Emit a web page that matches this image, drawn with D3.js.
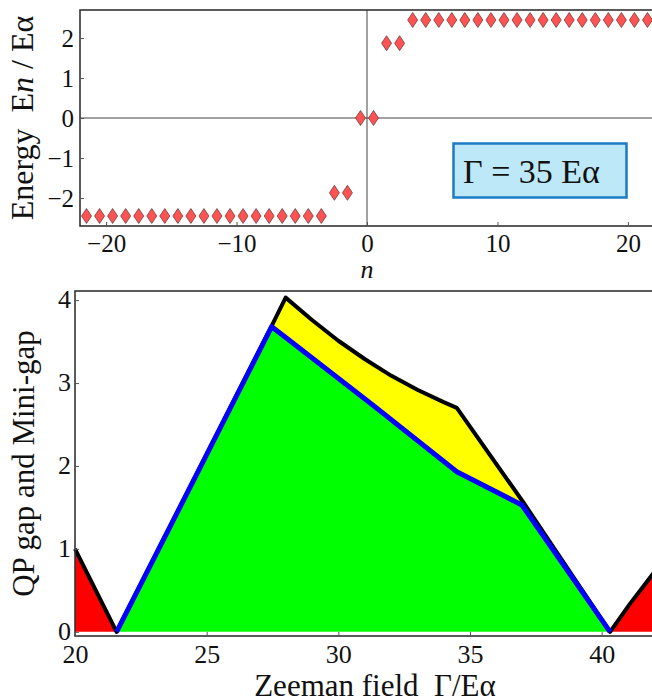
<!DOCTYPE html>
<html>
<head>
<meta charset="utf-8">
<script src="https://cdn.jsdelivr.net/npm/d3@7"></script>
<style>
  html, body { margin: 0; padding: 0; background: #fff; }
  svg { display: block; }
  svg text { font-family: "Liberation Serif", "Times New Roman", serif !important; }
</style>
</head>
<body>
<svg id="chart" width="652" height="700"></svg>
<script>
// ---------- Data: top panel (energy spectrum) ----------
const levelN = [-21.5, -20.5, -19.5, -18.5, -17.5, -16.5, -15.5, -14.5, -13.5, -12.5, -11.5,
  -10.5, -9.5, -8.5, -7.5, -6.5, -5.5, -4.5, -3.5, -2.5, -1.5, -0.5,
  0.5, 1.5, 2.5, 3.5, 4.5, 5.5, 6.5, 7.5, 8.5, 9.5, 10.5, 11.5, 12.5,
  13.5, 14.5, 15.5, 16.5, 17.5, 18.5, 19.5, 20.5, 21.5];
const levelE = [-2.45, -2.45, -2.45, -2.45, -2.45, -2.45, -2.45, -2.45, -2.45, -2.45, -2.45,
  -2.45, -2.45, -2.45, -2.45, -2.45, -2.45, -2.45, -2.45, -1.87, -1.87, 0,
  0, 1.87, 1.87, 2.45, 2.45, 2.45, 2.45, 2.45, 2.45, 2.45, 2.45, 2.45, 2.45,
  2.45, 2.45, 2.45, 2.45, 2.45, 2.45, 2.45, 2.45, 2.45];
const topXTicks = [-20, -10, 0, 10, 20];
const topXTickLabels = ["\u221220", "\u221210", "0", "10", "20"];
const topYTicks = [-2, -1, 0, 1, 2];
const topYTickLabels = ["\u22122", "\u22121", "0", "1", "2"];
const legendText = "\u0393 = 35 E\u03b1";

// ---------- Data: bottom panel (gaps vs Zeeman field) ----------
// QP gap (black curve)
const qpX   = [20, 21.58, 27.47, 28.0, 29.0, 30.0, 31.0, 32.0, 33.0, 34.0, 34.5, 37.03, 40.32, 41.08, 42];
const qpGap = [1.0, 0, 3.69, 4.03, 3.76, 3.51, 3.29, 3.09, 2.92, 2.77, 2.70, 1.56, 0, 0.34, 0.72];
// Mini-gap (blue curve)
const miniX   = [21.58, 27.47, 28.04, 31.33, 34.5, 36.97, 40.32];
const miniGap = [0, 3.68, 3.54, 2.73, 1.93, 1.53, 0];
const botXTicks = [20, 25, 30, 35, 40];
const botYTicks = [0, 1, 2, 3, 4];

// ---------- Drawing ----------
const SERIF = "Liberation Serif";
const svg = d3.select("#chart");
const FRAME = "#333";

// ===== Top panel =====
const tx = d3.scaleLinear().domain([-22, 22]).range([80, 654]);
const ty = d3.scaleLinear().domain([-2.7, 2.7]).range([226, 10]);
const topG = svg.append("g");

// zero lines
topG.append("line").attr("x1", tx(-22)).attr("x2", tx(22)).attr("y1", ty(0)).attr("y2", ty(0))
  .attr("stroke", "#444").attr("stroke-width", 1);
topG.append("line").attr("x1", tx(0)).attr("x2", tx(0)).attr("y1", ty(2.7)).attr("y2", ty(-2.7))
  .attr("stroke", "#444").attr("stroke-width", 1);

// frame
topG.append("rect").attr("x", tx(-22)).attr("y", ty(2.7))
  .attr("width", tx(22) - tx(-22)).attr("height", ty(-2.7) - ty(2.7))
  .attr("fill", "none").attr("stroke", FRAME).attr("stroke-width", 1.6);

// ticks (inward)
const topXAxis = d3.axisBottom(tx).tickValues(topXTicks).tickSize(-4).tickPadding(8)
  .tickFormat((d, i) => topXTickLabels[i]);
const gTX = topG.append("g").attr("transform", `translate(0,${ty(-2.7)})`).call(topXAxis);
const topYAxis = d3.axisLeft(ty).tickValues(topYTicks).tickSize(-4).tickPadding(6)
  .tickFormat((d, i) => topYTickLabels[i]);
const gTY = topG.append("g").attr("transform", `translate(${tx(-22)},0)`).call(topYAxis);
[gTX, gTY].forEach(g => {
  g.attr("font-family", SERIF).attr("font-size", 25);
  g.select(".domain").remove();
  g.selectAll(".tick line").attr("stroke", "#555");
  g.selectAll(".tick text").attr("fill", "#111").attr("font-family", SERIF).attr("font-size", 25);
});
gTY.selectAll(".tick text").attr("dy", "0.34em");

// diamonds
const diamond = "M0,-7.5L5,0L0,7.5L-5,0Z";
topG.append("g").selectAll("path").data(levelN).join("path")
  .attr("d", diamond)
  .attr("transform", (d, i) => `translate(${tx(d)},${ty(levelE[i])})`)
  .attr("fill", "#ff5252").attr("stroke", "#5b3434").attr("stroke-width", 0.7);

// legend box
topG.append("rect").attr("x", 453.5).attr("y", 143.5).attr("width", 173).attr("height", 54)
  .attr("fill", "#bde8f8").attr("stroke", "#1b7bc4").attr("stroke-width", 2.5);
topG.append("text").attr("x", 463).attr("y", 183).attr("fill", "#111")
  .attr("font-family", SERIF).attr("font-size", 34).text(legendText);

// axis labels
topG.append("text").attr("x", tx(0)).attr("y", 278).attr("text-anchor", "middle")
  .attr("font-family", SERIF).attr("font-size", 26).attr("font-style", "italic")
  .attr("fill", "#111").text("n");
const yl = topG.append("text").attr("transform", `translate(33,${(ty(2.7) + ty(-2.7)) / 2}) rotate(-90)`)
  .attr("text-anchor", "middle").attr("font-family", SERIF).attr("font-size", 32).attr("fill", "#111");
yl.append("tspan").text("Energy\u00a0\u00a0E");
yl.append("tspan").attr("font-style", "italic").text("n");
yl.append("tspan").text(" / E\u03b1");

// ===== Bottom panel =====
const bx = d3.scaleLinear().domain([20, 42]).range([75, 654.3]);
const by = d3.scaleLinear().domain([-0.05, 4.11]).range([636, 291]);
const botG = svg.append("g");

const qp = qpX.map((x, i) => [x, qpGap[i]]);
const mini = miniX.map((x, i) => [x, miniGap[i]]);

const area = d3.area().x(d => bx(d[0])).y0(by(0)).y1(d => by(d[1]));
const line = d3.line().x(d => bx(d[0])).y(d => by(d[1]));

// red fills (QP gap outside the mini-gap region)
botG.append("path").datum(qp.filter(d => d[0] <= miniX[0])).attr("d", area).attr("fill", "#ff0000");
botG.append("path").datum(qp.filter(d => d[0] >= miniX[miniX.length - 1])).attr("d", area).attr("fill", "#ff0000");
// green fill under mini-gap
botG.append("path").datum(mini).attr("d", area).attr("fill", "#00ff00");
// yellow between mini-gap and QP gap
const upper = qp.filter(d => d[0] >= 27.47 && d[0] <= 37.03);
const lower = mini.filter(d => d[0] >= 27.47 && d[0] <= 36.97).slice().reverse();
botG.append("path").attr("d", line(upper.concat(lower)) + "Z").attr("fill", "#ffff00");

// curves
botG.append("path").datum(qp).attr("d", line).attr("fill", "none")
  .attr("stroke", "#000").attr("stroke-width", 4).attr("stroke-linejoin", "round");
botG.append("path").datum(mini).attr("d", line).attr("fill", "none")
  .attr("stroke", "#0000ff").attr("stroke-width", 5).attr("stroke-linejoin", "round");

// frame
botG.append("rect").attr("x", bx(20)).attr("y", by(4.11))
  .attr("width", bx(42) - bx(20)).attr("height", by(-0.05) - by(4.11))
  .attr("fill", "none").attr("stroke", FRAME).attr("stroke-width", 1.6);

const botXAxis = d3.axisBottom(bx).tickValues(botXTicks).tickSize(-4).tickPadding(9)
  .tickFormat(d3.format("d"));
const gBX = botG.append("g").attr("transform", `translate(0,${by(-0.05)})`).call(botXAxis);
const botYAxis = d3.axisLeft(by).tickValues(botYTicks).tickSize(-4).tickPadding(4)
  .tickFormat(d3.format("d"));
const gBY = botG.append("g").attr("transform", `translate(${bx(20)},0)`).call(botYAxis);
[gBX, gBY].forEach(g => {
  g.attr("font-family", SERIF).attr("font-size", 26);
  g.select(".domain").remove();
  g.selectAll(".tick line").attr("stroke", "#555");
  g.selectAll(".tick text").attr("fill", "#111").attr("font-family", SERIF).attr("font-size", 26);
});
gBY.selectAll(".tick text").attr("dy", "0.28em");

botG.append("text").attr("x", 375).attr("y", 696).attr("text-anchor", "middle")
  .attr("font-family", SERIF).attr("font-size", 31).attr("fill", "#111")
  .text("Zeeman field\u00a0\u00a0\u0393/E\u03b1");
botG.append("text").attr("transform", `translate(34,${(by(4.11) + by(-0.05)) / 2}) rotate(-90)`)
  .attr("text-anchor", "middle").attr("font-family", SERIF).attr("font-size", 31).attr("fill", "#111")
  .text("QP gap and Mini-gap");
</script>
</body>
</html>
